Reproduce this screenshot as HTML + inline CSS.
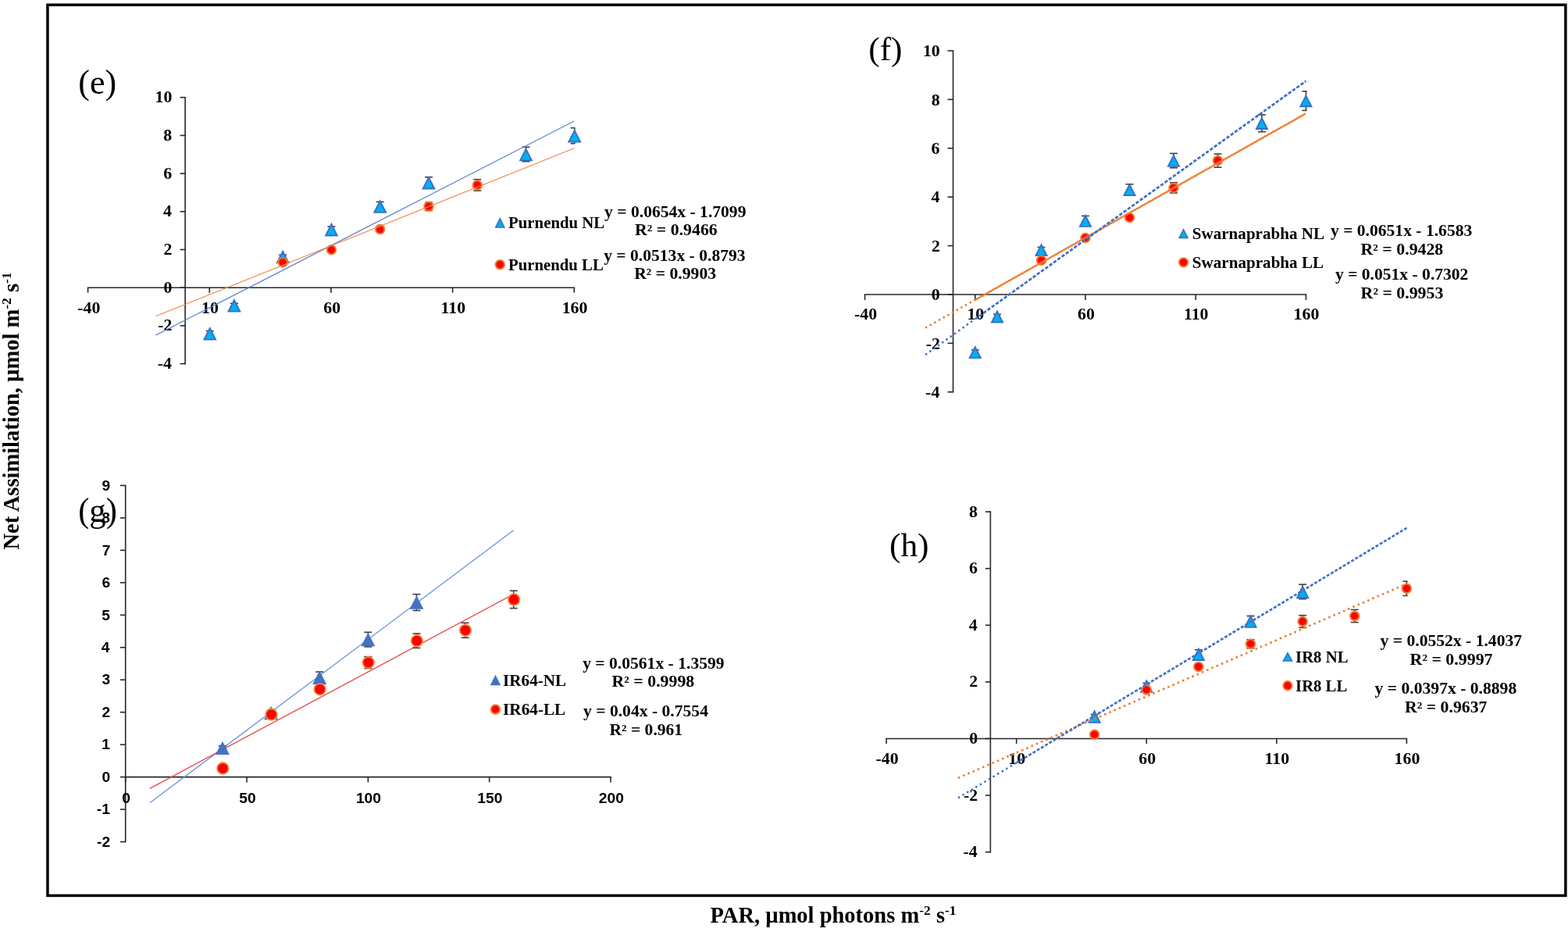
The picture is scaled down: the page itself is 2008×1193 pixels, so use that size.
<!DOCTYPE html>
<html><head><meta charset="utf-8"><title>Net assimilation vs PAR</title>
<style>html,body{margin:0;padding:0;background:#fff;overflow:hidden;}svg{display:block;}</style></head>
<body><svg width="2008" height="1193" viewBox="0 0 2008 1193">
<rect x="0" y="0" width="2008" height="1193" fill="#fff"/>
<line x1="237.14" y1="123.90" x2="237.14" y2="466.40" stroke="#262626" stroke-width="1.6"/>
<line x1="230.64" y1="465.60" x2="237.14" y2="465.60" stroke="#262626" stroke-width="1.6"/>
<line x1="230.64" y1="416.90" x2="237.14" y2="416.90" stroke="#262626" stroke-width="1.6"/>
<line x1="230.64" y1="368.20" x2="237.14" y2="368.20" stroke="#262626" stroke-width="1.6"/>
<line x1="230.64" y1="319.50" x2="237.14" y2="319.50" stroke="#262626" stroke-width="1.6"/>
<line x1="230.64" y1="270.80" x2="237.14" y2="270.80" stroke="#262626" stroke-width="1.6"/>
<line x1="230.64" y1="222.10" x2="237.14" y2="222.10" stroke="#262626" stroke-width="1.6"/>
<line x1="230.64" y1="173.40" x2="237.14" y2="173.40" stroke="#262626" stroke-width="1.6"/>
<line x1="230.64" y1="124.70" x2="237.14" y2="124.70" stroke="#262626" stroke-width="1.6"/>
<line x1="111.80" y1="368.20" x2="736.08" y2="368.20" stroke="#262626" stroke-width="1.6"/>
<line x1="112.60" y1="368.20" x2="112.60" y2="374.70" stroke="#262626" stroke-width="1.6"/>
<line x1="268.27" y1="368.20" x2="268.27" y2="374.70" stroke="#262626" stroke-width="1.6"/>
<line x1="423.94" y1="368.20" x2="423.94" y2="374.70" stroke="#262626" stroke-width="1.6"/>
<line x1="579.61" y1="368.20" x2="579.61" y2="374.70" stroke="#262626" stroke-width="1.6"/>
<line x1="735.28" y1="368.20" x2="735.28" y2="374.70" stroke="#262626" stroke-width="1.6"/>
<text x="201.75" y="472.10" font-family='"Liberation Serif", "Times New Roman", serif' font-weight="bold" font-size="20.6" textLength="18.19" lengthAdjust="spacingAndGlyphs" fill="#000">-4</text>
<text x="202.28" y="423.40" font-family='"Liberation Serif", "Times New Roman", serif' font-weight="bold" font-size="20.6" textLength="18.19" lengthAdjust="spacingAndGlyphs" fill="#000">-2</text>
<text x="209.43" y="374.70" font-family='"Liberation Serif", "Times New Roman", serif' font-weight="bold" font-size="20.6" textLength="10.92" lengthAdjust="spacingAndGlyphs" fill="#000">0</text>
<text x="209.54" y="326.00" font-family='"Liberation Serif", "Times New Roman", serif' font-weight="bold" font-size="20.6" textLength="10.92" lengthAdjust="spacingAndGlyphs" fill="#000">2</text>
<text x="209.01" y="277.30" font-family='"Liberation Serif", "Times New Roman", serif' font-weight="bold" font-size="20.6" textLength="10.92" lengthAdjust="spacingAndGlyphs" fill="#000">4</text>
<text x="209.22" y="228.60" font-family='"Liberation Serif", "Times New Roman", serif' font-weight="bold" font-size="20.6" textLength="10.92" lengthAdjust="spacingAndGlyphs" fill="#000">6</text>
<text x="209.32" y="179.90" font-family='"Liberation Serif", "Times New Roman", serif' font-weight="bold" font-size="20.6" textLength="10.92" lengthAdjust="spacingAndGlyphs" fill="#000">8</text>
<text x="198.51" y="131.20" font-family='"Liberation Serif", "Times New Roman", serif' font-weight="bold" font-size="20.6" textLength="21.84" lengthAdjust="spacingAndGlyphs" fill="#000">10</text>
<text x="99.28" y="400.80" font-family='"Liberation Serif", "Times New Roman", serif' font-weight="bold" font-size="20.6" textLength="29.11" lengthAdjust="spacingAndGlyphs" fill="#000">-40</text>
<text x="258.11" y="400.80" font-family='"Liberation Serif", "Times New Roman", serif' font-weight="bold" font-size="20.6" textLength="21.84" lengthAdjust="spacingAndGlyphs" fill="#000">10</text>
<text x="414.28" y="400.80" font-family='"Liberation Serif", "Times New Roman", serif' font-weight="bold" font-size="20.6" textLength="21.84" lengthAdjust="spacingAndGlyphs" fill="#000">60</text>
<text x="564.60" y="400.80" font-family='"Liberation Serif", "Times New Roman", serif' font-weight="bold" font-size="20.6" textLength="31.55" lengthAdjust="spacingAndGlyphs" fill="#000">110</text>
<text x="719.66" y="400.80" font-family='"Liberation Serif", "Times New Roman", serif' font-weight="bold" font-size="20.6" textLength="32.75" lengthAdjust="spacingAndGlyphs" fill="#000">160</text>
<line x1="268.77" y1="423.60" x2="268.77" y2="430.00" stroke="#404040" stroke-width="1.6"/>
<line x1="263.77" y1="423.60" x2="273.77" y2="423.60" stroke="#404040" stroke-width="1.6"/>
<line x1="263.77" y1="430.00" x2="273.77" y2="430.00" stroke="#404040" stroke-width="1.6"/>
<line x1="299.91" y1="388.30" x2="299.91" y2="393.30" stroke="#404040" stroke-width="1.6"/>
<line x1="294.91" y1="388.30" x2="304.91" y2="388.30" stroke="#404040" stroke-width="1.6"/>
<line x1="294.91" y1="393.30" x2="304.91" y2="393.30" stroke="#404040" stroke-width="1.6"/>
<line x1="362.18" y1="326.30" x2="362.18" y2="330.70" stroke="#404040" stroke-width="1.6"/>
<line x1="357.18" y1="326.30" x2="367.18" y2="326.30" stroke="#404040" stroke-width="1.6"/>
<line x1="357.18" y1="330.70" x2="367.18" y2="330.70" stroke="#404040" stroke-width="1.6"/>
<line x1="424.44" y1="290.00" x2="424.44" y2="297.20" stroke="#404040" stroke-width="1.6"/>
<line x1="419.44" y1="290.00" x2="429.44" y2="290.00" stroke="#404040" stroke-width="1.6"/>
<line x1="419.44" y1="297.20" x2="429.44" y2="297.20" stroke="#404040" stroke-width="1.6"/>
<line x1="486.71" y1="258.40" x2="486.71" y2="269.60" stroke="#404040" stroke-width="1.6"/>
<line x1="481.71" y1="258.40" x2="491.71" y2="258.40" stroke="#404040" stroke-width="1.6"/>
<line x1="481.71" y1="269.60" x2="491.71" y2="269.60" stroke="#404040" stroke-width="1.6"/>
<line x1="548.98" y1="226.75" x2="548.98" y2="240.75" stroke="#404040" stroke-width="1.6"/>
<line x1="543.98" y1="226.75" x2="553.98" y2="226.75" stroke="#404040" stroke-width="1.6"/>
<line x1="543.98" y1="240.75" x2="553.98" y2="240.75" stroke="#404040" stroke-width="1.6"/>
<line x1="673.52" y1="188.30" x2="673.52" y2="206.70" stroke="#404040" stroke-width="1.6"/>
<line x1="668.52" y1="188.30" x2="678.52" y2="188.30" stroke="#404040" stroke-width="1.6"/>
<line x1="668.52" y1="206.70" x2="678.52" y2="206.70" stroke="#404040" stroke-width="1.6"/>
<line x1="735.78" y1="163.75" x2="735.78" y2="183.75" stroke="#404040" stroke-width="1.6"/>
<line x1="730.78" y1="163.75" x2="736.48" y2="163.75" stroke="#404040" stroke-width="1.6"/>
<line x1="730.78" y1="183.75" x2="736.48" y2="183.75" stroke="#404040" stroke-width="1.6"/>
<line x1="362.18" y1="333.80" x2="362.18" y2="337.80" stroke="#404040" stroke-width="1.6"/>
<line x1="357.18" y1="333.80" x2="367.18" y2="333.80" stroke="#404040" stroke-width="1.6"/>
<line x1="357.18" y1="337.80" x2="367.18" y2="337.80" stroke="#404040" stroke-width="1.6"/>
<line x1="424.44" y1="317.75" x2="424.44" y2="321.75" stroke="#404040" stroke-width="1.6"/>
<line x1="419.44" y1="317.75" x2="429.44" y2="317.75" stroke="#404040" stroke-width="1.6"/>
<line x1="419.44" y1="321.75" x2="429.44" y2="321.75" stroke="#404040" stroke-width="1.6"/>
<line x1="486.71" y1="290.60" x2="486.71" y2="296.60" stroke="#404040" stroke-width="1.6"/>
<line x1="481.71" y1="290.60" x2="491.71" y2="290.60" stroke="#404040" stroke-width="1.6"/>
<line x1="481.71" y1="296.60" x2="491.71" y2="296.60" stroke="#404040" stroke-width="1.6"/>
<line x1="548.98" y1="259.10" x2="548.98" y2="269.50" stroke="#404040" stroke-width="1.6"/>
<line x1="543.98" y1="259.10" x2="553.98" y2="259.10" stroke="#404040" stroke-width="1.6"/>
<line x1="543.98" y1="269.50" x2="553.98" y2="269.50" stroke="#404040" stroke-width="1.6"/>
<line x1="611.25" y1="229.70" x2="611.25" y2="244.10" stroke="#404040" stroke-width="1.6"/>
<line x1="606.25" y1="229.70" x2="616.25" y2="229.70" stroke="#404040" stroke-width="1.6"/>
<line x1="606.25" y1="244.10" x2="616.25" y2="244.10" stroke="#404040" stroke-width="1.6"/>
<polygon points="268.77,418.00 277.67,435.60 259.87,435.60" fill="#3A6FC4"/>
<polygon points="268.77,422.21 274.58,433.70 262.96,433.70" fill="#00B0F0"/>
<polygon points="299.91,382.00 308.81,399.60 291.01,399.60" fill="#3A6FC4"/>
<polygon points="299.91,386.21 305.72,397.70 294.10,397.70" fill="#00B0F0"/>
<polygon points="362.18,319.70 371.08,337.30 353.28,337.30" fill="#3A6FC4"/>
<polygon points="362.18,323.91 367.99,335.40 356.37,335.40" fill="#00B0F0"/>
<polygon points="424.44,284.80 433.34,302.40 415.54,302.40" fill="#3A6FC4"/>
<polygon points="424.44,289.01 430.25,300.50 418.63,300.50" fill="#00B0F0"/>
<polygon points="486.71,255.20 495.61,272.80 477.81,272.80" fill="#3A6FC4"/>
<polygon points="486.71,259.41 492.52,270.90 480.90,270.90" fill="#00B0F0"/>
<polygon points="548.98,224.95 557.88,242.55 540.08,242.55" fill="#3A6FC4"/>
<polygon points="548.98,229.16 554.79,240.65 543.17,240.65" fill="#00B0F0"/>
<polygon points="673.52,188.70 682.42,206.30 664.62,206.30" fill="#3A6FC4"/>
<polygon points="673.52,192.91 679.33,204.40 667.71,204.40" fill="#00B0F0"/>
<polygon points="735.78,164.95 744.68,182.55 726.88,182.55" fill="#3A6FC4"/>
<polygon points="735.78,169.16 741.59,180.65 729.97,180.65" fill="#00B0F0"/>
<circle cx="362.18" cy="335.80" r="5.75" fill="#FF0000" stroke="#ED7D31" stroke-width="2"/>
<circle cx="424.44" cy="319.75" r="5.75" fill="#FF0000" stroke="#ED7D31" stroke-width="2"/>
<circle cx="486.71" cy="293.60" r="5.75" fill="#FF0000" stroke="#ED7D31" stroke-width="2"/>
<circle cx="548.98" cy="264.30" r="5.75" fill="#FF0000" stroke="#ED7D31" stroke-width="2"/>
<circle cx="611.25" cy="236.90" r="5.75" fill="#FF0000" stroke="#ED7D31" stroke-width="2"/>
<line x1="199.47" y1="429.11" x2="735.28" y2="155.04" stroke="#5A86CF" stroke-width="1.2"/>
<line x1="199.47" y1="404.73" x2="735.28" y2="189.75" stroke="#EF8A48" stroke-width="1.2"/>
<text x="100.28" y="119.60" font-family='"Liberation Serif", "Times New Roman", serif' font-weight="normal" font-size="43.5" textLength="48.88" lengthAdjust="spacingAndGlyphs" fill="#000">(e)</text>
<polygon points="640.30,278.10 647.10,291.70 633.50,291.70" fill="#3A6FC4"/>
<polygon points="640.30,281.68 644.51,290.10 636.09,290.10" fill="#00B0F0"/>
<text x="651.04" y="292.20" font-family='"Liberation Serif", "Times New Roman", serif' font-weight="bold" font-size="20.3" textLength="123.23" lengthAdjust="spacingAndGlyphs" fill="#000">Purnendu NL</text>
<circle cx="640.30" cy="338.70" r="5.75" fill="#FF0000" stroke="#ED7D31" stroke-width="2"/>
<text x="651.04" y="346.40" font-family='"Liberation Serif", "Times New Roman", serif' font-weight="bold" font-size="20.3" textLength="121.80" lengthAdjust="spacingAndGlyphs" fill="#000">Purnendu LL</text>
<text x="774.08" y="277.60" font-family='"Liberation Serif", "Times New Roman", serif' font-weight="bold" font-size="20" textLength="181.38" lengthAdjust="spacingAndGlyphs" fill="#000">y = 0.0654x - 1.7099</text>
<text x="813.12" y="301.00" font-family='"Liberation Serif", "Times New Roman", serif' font-weight="bold" font-size="20" textLength="105.62" lengthAdjust="spacingAndGlyphs" fill="#000">R² = 0.9466</text>
<text x="773.18" y="333.70" font-family='"Liberation Serif", "Times New Roman", serif' font-weight="bold" font-size="20" textLength="181.38" lengthAdjust="spacingAndGlyphs" fill="#000">y = 0.0513x - 0.8793</text>
<text x="812.22" y="356.70" font-family='"Liberation Serif", "Times New Roman", serif' font-weight="bold" font-size="20" textLength="104.82" lengthAdjust="spacingAndGlyphs" fill="#000">R² = 0.9903</text>
<line x1="1220.55" y1="64.15" x2="1220.55" y2="502.55" stroke="#262626" stroke-width="1.6"/>
<line x1="1213.55" y1="501.75" x2="1220.55" y2="501.75" stroke="#262626" stroke-width="1.6"/>
<line x1="1213.55" y1="439.35" x2="1220.55" y2="439.35" stroke="#262626" stroke-width="1.6"/>
<line x1="1213.55" y1="376.95" x2="1220.55" y2="376.95" stroke="#262626" stroke-width="1.6"/>
<line x1="1213.55" y1="314.55" x2="1220.55" y2="314.55" stroke="#262626" stroke-width="1.6"/>
<line x1="1213.55" y1="252.15" x2="1220.55" y2="252.15" stroke="#262626" stroke-width="1.6"/>
<line x1="1213.55" y1="189.75" x2="1220.55" y2="189.75" stroke="#262626" stroke-width="1.6"/>
<line x1="1213.55" y1="127.35" x2="1220.55" y2="127.35" stroke="#262626" stroke-width="1.6"/>
<line x1="1213.55" y1="64.95" x2="1220.55" y2="64.95" stroke="#262626" stroke-width="1.6"/>
<line x1="1106.78" y1="376.95" x2="1673.22" y2="376.95" stroke="#262626" stroke-width="1.6"/>
<line x1="1107.58" y1="376.95" x2="1107.58" y2="383.95" stroke="#262626" stroke-width="1.6"/>
<line x1="1248.79" y1="376.95" x2="1248.79" y2="383.95" stroke="#262626" stroke-width="1.6"/>
<line x1="1390.00" y1="376.95" x2="1390.00" y2="383.95" stroke="#262626" stroke-width="1.6"/>
<line x1="1531.21" y1="376.95" x2="1531.21" y2="383.95" stroke="#262626" stroke-width="1.6"/>
<line x1="1672.42" y1="376.95" x2="1672.42" y2="383.95" stroke="#262626" stroke-width="1.6"/>
<text x="1185.14" y="509.05" font-family='"Liberation Serif", "Times New Roman", serif' font-weight="bold" font-size="20.6" textLength="18.19" lengthAdjust="spacingAndGlyphs" fill="#000">-4</text>
<text x="1185.68" y="446.65" font-family='"Liberation Serif", "Times New Roman", serif' font-weight="bold" font-size="20.6" textLength="18.19" lengthAdjust="spacingAndGlyphs" fill="#000">-2</text>
<text x="1192.83" y="384.25" font-family='"Liberation Serif", "Times New Roman", serif' font-weight="bold" font-size="20.6" textLength="10.92" lengthAdjust="spacingAndGlyphs" fill="#000">0</text>
<text x="1192.94" y="321.85" font-family='"Liberation Serif", "Times New Roman", serif' font-weight="bold" font-size="20.6" textLength="10.92" lengthAdjust="spacingAndGlyphs" fill="#000">2</text>
<text x="1192.41" y="259.45" font-family='"Liberation Serif", "Times New Roman", serif' font-weight="bold" font-size="20.6" textLength="10.92" lengthAdjust="spacingAndGlyphs" fill="#000">4</text>
<text x="1192.62" y="197.05" font-family='"Liberation Serif", "Times New Roman", serif' font-weight="bold" font-size="20.6" textLength="10.92" lengthAdjust="spacingAndGlyphs" fill="#000">6</text>
<text x="1192.72" y="134.65" font-family='"Liberation Serif", "Times New Roman", serif' font-weight="bold" font-size="20.6" textLength="10.92" lengthAdjust="spacingAndGlyphs" fill="#000">8</text>
<text x="1181.91" y="72.25" font-family='"Liberation Serif", "Times New Roman", serif' font-weight="bold" font-size="20.6" textLength="21.84" lengthAdjust="spacingAndGlyphs" fill="#000">10</text>
<text x="1094.06" y="408.60" font-family='"Liberation Serif", "Times New Roman", serif' font-weight="bold" font-size="20.6" textLength="29.11" lengthAdjust="spacingAndGlyphs" fill="#000">-40</text>
<text x="1238.42" y="408.60" font-family='"Liberation Serif", "Times New Roman", serif' font-weight="bold" font-size="20.6" textLength="21.84" lengthAdjust="spacingAndGlyphs" fill="#000">10</text>
<text x="1380.14" y="408.60" font-family='"Liberation Serif", "Times New Roman", serif' font-weight="bold" font-size="20.6" textLength="21.84" lengthAdjust="spacingAndGlyphs" fill="#000">60</text>
<text x="1515.99" y="408.60" font-family='"Liberation Serif", "Times New Roman", serif' font-weight="bold" font-size="20.6" textLength="31.55" lengthAdjust="spacingAndGlyphs" fill="#000">110</text>
<text x="1656.59" y="408.60" font-family='"Liberation Serif", "Times New Roman", serif' font-weight="bold" font-size="20.6" textLength="32.75" lengthAdjust="spacingAndGlyphs" fill="#000">160</text>
<line x1="1248.79" y1="448.00" x2="1248.79" y2="454.00" stroke="#404040" stroke-width="1.6"/>
<line x1="1243.79" y1="448.00" x2="1253.79" y2="448.00" stroke="#404040" stroke-width="1.6"/>
<line x1="1243.79" y1="454.00" x2="1253.79" y2="454.00" stroke="#404040" stroke-width="1.6"/>
<line x1="1277.03" y1="402.30" x2="1277.03" y2="408.30" stroke="#404040" stroke-width="1.6"/>
<line x1="1272.03" y1="402.30" x2="1282.03" y2="402.30" stroke="#404040" stroke-width="1.6"/>
<line x1="1272.03" y1="408.30" x2="1282.03" y2="408.30" stroke="#404040" stroke-width="1.6"/>
<line x1="1333.52" y1="316.50" x2="1333.52" y2="323.50" stroke="#404040" stroke-width="1.6"/>
<line x1="1328.52" y1="316.50" x2="1338.52" y2="316.50" stroke="#404040" stroke-width="1.6"/>
<line x1="1328.52" y1="323.50" x2="1338.52" y2="323.50" stroke="#404040" stroke-width="1.6"/>
<line x1="1390.00" y1="276.40" x2="1390.00" y2="289.00" stroke="#404040" stroke-width="1.6"/>
<line x1="1385.00" y1="276.40" x2="1395.00" y2="276.40" stroke="#404040" stroke-width="1.6"/>
<line x1="1385.00" y1="289.00" x2="1395.00" y2="289.00" stroke="#404040" stroke-width="1.6"/>
<line x1="1446.49" y1="235.80" x2="1446.49" y2="250.20" stroke="#404040" stroke-width="1.6"/>
<line x1="1441.49" y1="235.80" x2="1451.49" y2="235.80" stroke="#404040" stroke-width="1.6"/>
<line x1="1441.49" y1="250.20" x2="1451.49" y2="250.20" stroke="#404040" stroke-width="1.6"/>
<line x1="1502.97" y1="196.40" x2="1502.97" y2="214.80" stroke="#404040" stroke-width="1.6"/>
<line x1="1497.97" y1="196.40" x2="1507.97" y2="196.40" stroke="#404040" stroke-width="1.6"/>
<line x1="1497.97" y1="214.80" x2="1507.97" y2="214.80" stroke="#404040" stroke-width="1.6"/>
<line x1="1615.94" y1="146.90" x2="1615.94" y2="168.70" stroke="#404040" stroke-width="1.6"/>
<line x1="1610.94" y1="146.90" x2="1620.94" y2="146.90" stroke="#404040" stroke-width="1.6"/>
<line x1="1610.94" y1="168.70" x2="1620.94" y2="168.70" stroke="#404040" stroke-width="1.6"/>
<line x1="1672.42" y1="116.80" x2="1672.42" y2="141.40" stroke="#404040" stroke-width="1.6"/>
<line x1="1667.42" y1="116.80" x2="1673.62" y2="116.80" stroke="#404040" stroke-width="1.6"/>
<line x1="1667.42" y1="141.40" x2="1673.62" y2="141.40" stroke="#404040" stroke-width="1.6"/>
<line x1="1333.52" y1="330.70" x2="1333.52" y2="335.70" stroke="#404040" stroke-width="1.6"/>
<line x1="1328.52" y1="330.70" x2="1338.52" y2="330.70" stroke="#404040" stroke-width="1.6"/>
<line x1="1328.52" y1="335.70" x2="1338.52" y2="335.70" stroke="#404040" stroke-width="1.6"/>
<line x1="1390.00" y1="301.90" x2="1390.00" y2="306.90" stroke="#404040" stroke-width="1.6"/>
<line x1="1385.00" y1="301.90" x2="1395.00" y2="301.90" stroke="#404040" stroke-width="1.6"/>
<line x1="1385.00" y1="306.90" x2="1395.00" y2="306.90" stroke="#404040" stroke-width="1.6"/>
<line x1="1446.49" y1="275.40" x2="1446.49" y2="281.40" stroke="#404040" stroke-width="1.6"/>
<line x1="1441.49" y1="275.40" x2="1451.49" y2="275.40" stroke="#404040" stroke-width="1.6"/>
<line x1="1441.49" y1="281.40" x2="1451.49" y2="281.40" stroke="#404040" stroke-width="1.6"/>
<line x1="1502.97" y1="233.80" x2="1502.97" y2="247.00" stroke="#404040" stroke-width="1.6"/>
<line x1="1497.97" y1="233.80" x2="1507.97" y2="233.80" stroke="#404040" stroke-width="1.6"/>
<line x1="1497.97" y1="247.00" x2="1507.97" y2="247.00" stroke="#404040" stroke-width="1.6"/>
<line x1="1559.45" y1="197.00" x2="1559.45" y2="214.20" stroke="#404040" stroke-width="1.6"/>
<line x1="1554.45" y1="197.00" x2="1564.45" y2="197.00" stroke="#404040" stroke-width="1.6"/>
<line x1="1554.45" y1="214.20" x2="1564.45" y2="214.20" stroke="#404040" stroke-width="1.6"/>
<polygon points="1248.79,442.30 1257.39,459.10 1240.19,459.10" fill="#3A6FC4"/>
<polygon points="1248.79,446.47 1254.28,457.20 1243.30,457.20" fill="#00B0F0"/>
<polygon points="1277.03,396.60 1285.63,413.40 1268.43,413.40" fill="#3A6FC4"/>
<polygon points="1277.03,400.77 1282.53,411.50 1271.54,411.50" fill="#00B0F0"/>
<polygon points="1333.52,311.30 1342.12,328.10 1324.92,328.10" fill="#3A6FC4"/>
<polygon points="1333.52,315.47 1339.01,326.20 1328.03,326.20" fill="#00B0F0"/>
<polygon points="1390.00,274.00 1398.60,290.80 1381.40,290.80" fill="#3A6FC4"/>
<polygon points="1390.00,278.17 1395.49,288.90 1384.51,288.90" fill="#00B0F0"/>
<polygon points="1446.49,234.30 1455.09,251.10 1437.89,251.10" fill="#3A6FC4"/>
<polygon points="1446.49,238.47 1451.98,249.20 1440.99,249.20" fill="#00B0F0"/>
<polygon points="1502.97,196.90 1511.57,213.70 1494.37,213.70" fill="#3A6FC4"/>
<polygon points="1502.97,201.07 1508.46,211.80 1497.48,211.80" fill="#00B0F0"/>
<polygon points="1615.94,149.10 1624.54,165.90 1607.34,165.90" fill="#3A6FC4"/>
<polygon points="1615.94,153.27 1621.43,164.00 1610.45,164.00" fill="#00B0F0"/>
<polygon points="1672.42,120.40 1681.02,137.20 1663.82,137.20" fill="#3A6FC4"/>
<polygon points="1672.42,124.57 1677.91,135.30 1666.93,135.30" fill="#00B0F0"/>
<circle cx="1333.52" cy="333.20" r="5.75" fill="#FF0000" stroke="#ED7D31" stroke-width="2"/>
<circle cx="1390.00" cy="304.40" r="5.75" fill="#FF0000" stroke="#ED7D31" stroke-width="2"/>
<circle cx="1446.49" cy="278.40" r="5.75" fill="#FF0000" stroke="#ED7D31" stroke-width="2"/>
<circle cx="1502.97" cy="240.40" r="5.75" fill="#FF0000" stroke="#ED7D31" stroke-width="2"/>
<circle cx="1559.45" cy="205.60" r="5.75" fill="#FF0000" stroke="#ED7D31" stroke-width="2"/>
<line x1="1186.09" y1="419.14" x2="1248.79" y2="383.82" stroke="#ED7D31" stroke-width="2.9" stroke-linecap="round" stroke-dasharray="0 6.5"/>
<line x1="1186.09" y1="453.47" x2="1248.79" y2="408.38" stroke="#4472C4" stroke-width="2.9" stroke-linecap="round" stroke-dasharray="0 6.5"/>
<line x1="1248.79" y1="383.82" x2="1672.42" y2="145.14" stroke="#ED7D31" stroke-width="3.0" stroke-linecap="round" stroke-dasharray="0 2.9"/>
<line x1="1248.79" y1="408.38" x2="1672.42" y2="103.71" stroke="#4472C4" stroke-width="2.8" stroke-dasharray="4.4 2.1"/>
<text x="1112.21" y="77.00" font-family='"Liberation Serif", "Times New Roman", serif' font-weight="normal" font-size="42.4" textLength="43.29" lengthAdjust="spacingAndGlyphs" fill="#000">(f)</text>
<polygon points="1515.60,292.20 1522.30,305.20 1508.90,305.20" fill="#3A6FC4"/>
<polygon points="1515.60,295.69 1519.68,303.60 1511.52,303.60" fill="#00B0F0"/>
<text x="1526.77" y="305.90" font-family='"Liberation Serif", "Times New Roman", serif' font-weight="bold" font-size="20.5" textLength="169.32" lengthAdjust="spacingAndGlyphs" fill="#000">Swarnaprabha NL</text>
<circle cx="1515.60" cy="335.80" r="5.65" fill="#FF0000" stroke="#ED7D31" stroke-width="2"/>
<text x="1526.77" y="342.70" font-family='"Liberation Serif", "Times New Roman", serif' font-weight="bold" font-size="20.5" textLength="168.34" lengthAdjust="spacingAndGlyphs" fill="#000">Swarnaprabha LL</text>
<text x="1703.98" y="301.90" font-family='"Liberation Serif", "Times New Roman", serif' font-weight="bold" font-size="20" textLength="181.28" lengthAdjust="spacingAndGlyphs" fill="#000">y = 0.0651x - 1.6583</text>
<text x="1742.62" y="325.80" font-family='"Liberation Serif", "Times New Roman", serif' font-weight="bold" font-size="20" textLength="105.68" lengthAdjust="spacingAndGlyphs" fill="#000">R² = 0.9428</text>
<text x="1709.98" y="358.30" font-family='"Liberation Serif", "Times New Roman", serif' font-weight="bold" font-size="20" textLength="170.44" lengthAdjust="spacingAndGlyphs" fill="#000">y = 0.051x - 0.7302</text>
<text x="1742.62" y="382.20" font-family='"Liberation Serif", "Times New Roman", serif' font-weight="bold" font-size="20" textLength="105.73" lengthAdjust="spacingAndGlyphs" fill="#000">R² = 0.9953</text>
<line x1="160.70" y1="620.66" x2="160.70" y2="1078.32" stroke="#262626" stroke-width="1.6"/>
<line x1="153.90" y1="1077.52" x2="160.70" y2="1077.52" stroke="#262626" stroke-width="1.6"/>
<line x1="153.90" y1="1036.06" x2="160.70" y2="1036.06" stroke="#262626" stroke-width="1.6"/>
<line x1="153.90" y1="994.60" x2="160.70" y2="994.60" stroke="#262626" stroke-width="1.6"/>
<line x1="153.90" y1="953.14" x2="160.70" y2="953.14" stroke="#262626" stroke-width="1.6"/>
<line x1="153.90" y1="911.68" x2="160.70" y2="911.68" stroke="#262626" stroke-width="1.6"/>
<line x1="153.90" y1="870.22" x2="160.70" y2="870.22" stroke="#262626" stroke-width="1.6"/>
<line x1="153.90" y1="828.76" x2="160.70" y2="828.76" stroke="#262626" stroke-width="1.6"/>
<line x1="153.90" y1="787.30" x2="160.70" y2="787.30" stroke="#262626" stroke-width="1.6"/>
<line x1="153.90" y1="745.84" x2="160.70" y2="745.84" stroke="#262626" stroke-width="1.6"/>
<line x1="153.90" y1="704.38" x2="160.70" y2="704.38" stroke="#262626" stroke-width="1.6"/>
<line x1="153.90" y1="662.92" x2="160.70" y2="662.92" stroke="#262626" stroke-width="1.6"/>
<line x1="153.90" y1="621.46" x2="160.70" y2="621.46" stroke="#262626" stroke-width="1.6"/>
<line x1="159.90" y1="994.60" x2="782.82" y2="994.60" stroke="#262626" stroke-width="1.6"/>
<line x1="160.70" y1="994.60" x2="160.70" y2="1001.40" stroke="#262626" stroke-width="1.6"/>
<line x1="316.03" y1="994.60" x2="316.03" y2="1001.40" stroke="#262626" stroke-width="1.6"/>
<line x1="471.36" y1="994.60" x2="471.36" y2="1001.40" stroke="#262626" stroke-width="1.6"/>
<line x1="626.69" y1="994.60" x2="626.69" y2="1001.40" stroke="#262626" stroke-width="1.6"/>
<line x1="782.02" y1="994.60" x2="782.02" y2="1001.40" stroke="#262626" stroke-width="1.6"/>
<text x="124.11" y="1083.72" font-family='"Liberation Sans", Arial, sans-serif' font-weight="bold" font-size="17.5" textLength="17.12" lengthAdjust="spacingAndGlyphs" fill="#000">-2</text>
<text x="123.89" y="1042.26" font-family='"Liberation Sans", Arial, sans-serif' font-weight="bold" font-size="17.5" textLength="17.12" lengthAdjust="spacingAndGlyphs" fill="#000">-1</text>
<text x="130.60" y="1000.80" font-family='"Liberation Sans", Arial, sans-serif' font-weight="bold" font-size="17.5" textLength="10.71" lengthAdjust="spacingAndGlyphs" fill="#000">0</text>
<text x="130.32" y="959.34" font-family='"Liberation Sans", Arial, sans-serif' font-weight="bold" font-size="17.5" textLength="10.71" lengthAdjust="spacingAndGlyphs" fill="#000">1</text>
<text x="130.54" y="917.88" font-family='"Liberation Sans", Arial, sans-serif' font-weight="bold" font-size="17.5" textLength="10.71" lengthAdjust="spacingAndGlyphs" fill="#000">2</text>
<text x="130.49" y="876.42" font-family='"Liberation Sans", Arial, sans-serif' font-weight="bold" font-size="17.5" textLength="10.71" lengthAdjust="spacingAndGlyphs" fill="#000">3</text>
<text x="129.88" y="834.96" font-family='"Liberation Sans", Arial, sans-serif' font-weight="bold" font-size="17.5" textLength="10.71" lengthAdjust="spacingAndGlyphs" fill="#000">4</text>
<text x="130.32" y="793.50" font-family='"Liberation Sans", Arial, sans-serif' font-weight="bold" font-size="17.5" textLength="10.71" lengthAdjust="spacingAndGlyphs" fill="#000">5</text>
<text x="130.49" y="752.04" font-family='"Liberation Sans", Arial, sans-serif' font-weight="bold" font-size="17.5" textLength="10.71" lengthAdjust="spacingAndGlyphs" fill="#000">6</text>
<text x="130.66" y="710.58" font-family='"Liberation Sans", Arial, sans-serif' font-weight="bold" font-size="17.5" textLength="10.71" lengthAdjust="spacingAndGlyphs" fill="#000">7</text>
<text x="130.38" y="669.12" font-family='"Liberation Sans", Arial, sans-serif' font-weight="bold" font-size="17.5" textLength="10.71" lengthAdjust="spacingAndGlyphs" fill="#000">8</text>
<text x="130.49" y="627.66" font-family='"Liberation Sans", Arial, sans-serif' font-weight="bold" font-size="17.5" textLength="10.71" lengthAdjust="spacingAndGlyphs" fill="#000">9</text>
<text x="156.16" y="1028.40" font-family='"Liberation Sans", Arial, sans-serif' font-weight="bold" font-size="17.5" textLength="10.71" lengthAdjust="spacingAndGlyphs" fill="#000">0</text>
<text x="306.21" y="1028.40" font-family='"Liberation Sans", Arial, sans-serif' font-weight="bold" font-size="17.5" textLength="21.41" lengthAdjust="spacingAndGlyphs" fill="#000">50</text>
<text x="455.91" y="1028.40" font-family='"Liberation Sans", Arial, sans-serif' font-weight="bold" font-size="17.5" textLength="32.12" lengthAdjust="spacingAndGlyphs" fill="#000">100</text>
<text x="611.24" y="1028.40" font-family='"Liberation Sans", Arial, sans-serif' font-weight="bold" font-size="17.5" textLength="32.12" lengthAdjust="spacingAndGlyphs" fill="#000">150</text>
<text x="766.84" y="1028.40" font-family='"Liberation Sans", Arial, sans-serif' font-weight="bold" font-size="17.5" textLength="32.12" lengthAdjust="spacingAndGlyphs" fill="#000">200</text>
<line x1="191.77" y1="1027.72" x2="657.76" y2="678.84" stroke="#6A96D6" stroke-width="1.3"/>
<line x1="191.77" y1="1009.33" x2="657.76" y2="760.57" stroke="#E84848" stroke-width="1.3"/>
<line x1="284.96" y1="954.90" x2="284.96" y2="959.90" stroke="#404040" stroke-width="1.6"/>
<line x1="279.96" y1="954.90" x2="289.96" y2="954.90" stroke="#404040" stroke-width="1.6"/>
<line x1="279.96" y1="959.90" x2="289.96" y2="959.90" stroke="#404040" stroke-width="1.6"/>
<line x1="347.10" y1="909.00" x2="347.10" y2="916.00" stroke="#404040" stroke-width="1.6"/>
<line x1="342.10" y1="909.00" x2="352.10" y2="909.00" stroke="#404040" stroke-width="1.6"/>
<line x1="342.10" y1="916.00" x2="352.10" y2="916.00" stroke="#404040" stroke-width="1.6"/>
<line x1="409.23" y1="860.00" x2="409.23" y2="874.60" stroke="#404040" stroke-width="1.6"/>
<line x1="404.23" y1="860.00" x2="414.23" y2="860.00" stroke="#404040" stroke-width="1.6"/>
<line x1="404.23" y1="874.60" x2="414.23" y2="874.60" stroke="#404040" stroke-width="1.6"/>
<line x1="471.36" y1="809.30" x2="471.36" y2="827.90" stroke="#404040" stroke-width="1.6"/>
<line x1="466.36" y1="809.30" x2="476.36" y2="809.30" stroke="#404040" stroke-width="1.6"/>
<line x1="466.36" y1="827.90" x2="476.36" y2="827.90" stroke="#404040" stroke-width="1.6"/>
<line x1="533.49" y1="760.70" x2="533.49" y2="781.50" stroke="#404040" stroke-width="1.6"/>
<line x1="528.49" y1="760.70" x2="538.49" y2="760.70" stroke="#404040" stroke-width="1.6"/>
<line x1="528.49" y1="781.50" x2="538.49" y2="781.50" stroke="#404040" stroke-width="1.6"/>
<line x1="284.96" y1="981.50" x2="284.96" y2="985.50" stroke="#404040" stroke-width="1.6"/>
<line x1="279.96" y1="981.50" x2="289.96" y2="981.50" stroke="#404040" stroke-width="1.6"/>
<line x1="279.96" y1="985.50" x2="289.96" y2="985.50" stroke="#404040" stroke-width="1.6"/>
<line x1="347.10" y1="912.00" x2="347.10" y2="917.00" stroke="#404040" stroke-width="1.6"/>
<line x1="342.10" y1="912.00" x2="352.10" y2="912.00" stroke="#404040" stroke-width="1.6"/>
<line x1="342.10" y1="917.00" x2="352.10" y2="917.00" stroke="#404040" stroke-width="1.6"/>
<line x1="409.23" y1="877.30" x2="409.23" y2="887.30" stroke="#404040" stroke-width="1.6"/>
<line x1="404.23" y1="877.30" x2="414.23" y2="877.30" stroke="#404040" stroke-width="1.6"/>
<line x1="404.23" y1="887.30" x2="414.23" y2="887.30" stroke="#404040" stroke-width="1.6"/>
<line x1="471.36" y1="840.60" x2="471.36" y2="855.60" stroke="#404040" stroke-width="1.6"/>
<line x1="466.36" y1="840.60" x2="476.36" y2="840.60" stroke="#404040" stroke-width="1.6"/>
<line x1="466.36" y1="855.60" x2="476.36" y2="855.60" stroke="#404040" stroke-width="1.6"/>
<line x1="533.49" y1="811.00" x2="533.49" y2="829.40" stroke="#404040" stroke-width="1.6"/>
<line x1="528.49" y1="811.00" x2="538.49" y2="811.00" stroke="#404040" stroke-width="1.6"/>
<line x1="528.49" y1="829.40" x2="538.49" y2="829.40" stroke="#404040" stroke-width="1.6"/>
<line x1="595.62" y1="797.30" x2="595.62" y2="816.30" stroke="#404040" stroke-width="1.6"/>
<line x1="590.62" y1="797.30" x2="600.62" y2="797.30" stroke="#404040" stroke-width="1.6"/>
<line x1="590.62" y1="816.30" x2="600.62" y2="816.30" stroke="#404040" stroke-width="1.6"/>
<line x1="657.76" y1="756.20" x2="657.76" y2="778.60" stroke="#404040" stroke-width="1.6"/>
<line x1="652.76" y1="756.20" x2="662.76" y2="756.20" stroke="#404040" stroke-width="1.6"/>
<line x1="652.76" y1="778.60" x2="662.76" y2="778.60" stroke="#404040" stroke-width="1.6"/>
<polygon points="284.96,948.70 293.96,966.10 275.96,966.10" fill="#4472C4"/>
<polygon points="347.10,903.80 356.10,921.20 338.10,921.20" fill="#4472C4"/>
<polygon points="409.23,858.60 418.23,876.00 400.23,876.00" fill="#4472C4"/>
<polygon points="471.36,809.90 480.36,827.30 462.36,827.30" fill="#4472C4"/>
<polygon points="533.49,762.40 542.49,779.80 524.49,779.80" fill="#4472C4"/>
<circle cx="285.36" cy="983.50" r="7.25" fill="#FF0000" stroke="#F08A3C" stroke-width="1.8"/>
<circle cx="347.50" cy="914.50" r="7.25" fill="#FF0000" stroke="#F08A3C" stroke-width="1.8"/>
<circle cx="409.63" cy="882.30" r="7.25" fill="#FF0000" stroke="#F08A3C" stroke-width="1.8"/>
<circle cx="471.76" cy="848.10" r="7.25" fill="#FF0000" stroke="#F08A3C" stroke-width="1.8"/>
<circle cx="533.89" cy="820.20" r="7.25" fill="#FF0000" stroke="#F08A3C" stroke-width="1.8"/>
<circle cx="596.02" cy="806.80" r="7.25" fill="#FF0000" stroke="#F08A3C" stroke-width="1.8"/>
<circle cx="658.16" cy="767.40" r="7.25" fill="#FF0000" stroke="#F08A3C" stroke-width="1.8"/>
<text x="100.14" y="667.60" font-family='"Liberation Serif", "Times New Roman", serif' font-weight="normal" font-size="43.5" textLength="49.75" lengthAdjust="spacingAndGlyphs" fill="#000">(g)</text>
<polygon points="634.50,863.70 641.25,877.30 627.75,877.30" fill="#4472C4"/>
<text x="644.08" y="878.20" font-family='"Liberation Serif", "Times New Roman", serif' font-weight="bold" font-size="20.5" textLength="81.04" lengthAdjust="spacingAndGlyphs" fill="#000">IR64-NL</text>
<circle cx="634.50" cy="908.00" r="5.75" fill="#FF0000" stroke="#ED7D31" stroke-width="2"/>
<text x="644.08" y="915.10" font-family='"Liberation Serif", "Times New Roman", serif' font-weight="bold" font-size="20.5" textLength="80.21" lengthAdjust="spacingAndGlyphs" fill="#000">IR64-LL</text>
<text x="746.18" y="856.30" font-family='"Liberation Serif", "Times New Roman", serif' font-weight="bold" font-size="20" textLength="181.38" lengthAdjust="spacingAndGlyphs" fill="#000">y = 0.0561x - 1.3599</text>
<text x="783.52" y="879.30" font-family='"Liberation Serif", "Times New Roman", serif' font-weight="bold" font-size="20" textLength="105.78" lengthAdjust="spacingAndGlyphs" fill="#000">R² = 0.9998</text>
<text x="746.98" y="917.10" font-family='"Liberation Serif", "Times New Roman", serif' font-weight="bold" font-size="20" textLength="160.00" lengthAdjust="spacingAndGlyphs" fill="#000">y = 0.04x - 0.7554</text>
<text x="780.52" y="940.90" font-family='"Liberation Serif", "Times New Roman", serif' font-weight="bold" font-size="20" textLength="93.59" lengthAdjust="spacingAndGlyphs" fill="#000">R² = 0.961</text>
<line x1="1268.37" y1="654.30" x2="1268.37" y2="1091.50" stroke="#262626" stroke-width="1.6"/>
<line x1="1261.87" y1="1090.70" x2="1268.37" y2="1090.70" stroke="#262626" stroke-width="1.6"/>
<line x1="1261.87" y1="1018.10" x2="1268.37" y2="1018.10" stroke="#262626" stroke-width="1.6"/>
<line x1="1261.87" y1="945.50" x2="1268.37" y2="945.50" stroke="#262626" stroke-width="1.6"/>
<line x1="1261.87" y1="872.90" x2="1268.37" y2="872.90" stroke="#262626" stroke-width="1.6"/>
<line x1="1261.87" y1="800.30" x2="1268.37" y2="800.30" stroke="#262626" stroke-width="1.6"/>
<line x1="1261.87" y1="727.70" x2="1268.37" y2="727.70" stroke="#262626" stroke-width="1.6"/>
<line x1="1261.87" y1="655.10" x2="1268.37" y2="655.10" stroke="#262626" stroke-width="1.6"/>
<line x1="1134.31" y1="945.50" x2="1802.19" y2="945.50" stroke="#262626" stroke-width="1.6"/>
<line x1="1135.11" y1="945.50" x2="1135.11" y2="952.00" stroke="#262626" stroke-width="1.6"/>
<line x1="1301.68" y1="945.50" x2="1301.68" y2="952.00" stroke="#262626" stroke-width="1.6"/>
<line x1="1468.25" y1="945.50" x2="1468.25" y2="952.00" stroke="#262626" stroke-width="1.6"/>
<line x1="1634.82" y1="945.50" x2="1634.82" y2="952.00" stroke="#262626" stroke-width="1.6"/>
<line x1="1801.39" y1="945.50" x2="1801.39" y2="952.00" stroke="#262626" stroke-width="1.6"/>
<text x="1233.54" y="1097.20" font-family='"Liberation Serif", "Times New Roman", serif' font-weight="bold" font-size="20.6" textLength="18.19" lengthAdjust="spacingAndGlyphs" fill="#000">-4</text>
<text x="1234.08" y="1024.60" font-family='"Liberation Serif", "Times New Roman", serif' font-weight="bold" font-size="20.6" textLength="18.19" lengthAdjust="spacingAndGlyphs" fill="#000">-2</text>
<text x="1241.23" y="952.00" font-family='"Liberation Serif", "Times New Roman", serif' font-weight="bold" font-size="20.6" textLength="10.92" lengthAdjust="spacingAndGlyphs" fill="#000">0</text>
<text x="1241.34" y="879.40" font-family='"Liberation Serif", "Times New Roman", serif' font-weight="bold" font-size="20.6" textLength="10.92" lengthAdjust="spacingAndGlyphs" fill="#000">2</text>
<text x="1240.81" y="806.80" font-family='"Liberation Serif", "Times New Roman", serif' font-weight="bold" font-size="20.6" textLength="10.92" lengthAdjust="spacingAndGlyphs" fill="#000">4</text>
<text x="1241.02" y="734.20" font-family='"Liberation Serif", "Times New Roman", serif' font-weight="bold" font-size="20.6" textLength="10.92" lengthAdjust="spacingAndGlyphs" fill="#000">6</text>
<text x="1241.12" y="661.60" font-family='"Liberation Serif", "Times New Roman", serif' font-weight="bold" font-size="20.6" textLength="10.92" lengthAdjust="spacingAndGlyphs" fill="#000">8</text>
<text x="1121.59" y="977.80" font-family='"Liberation Serif", "Times New Roman", serif' font-weight="bold" font-size="20.6" textLength="29.11" lengthAdjust="spacingAndGlyphs" fill="#000">-40</text>
<text x="1291.32" y="977.80" font-family='"Liberation Serif", "Times New Roman", serif' font-weight="bold" font-size="20.6" textLength="21.84" lengthAdjust="spacingAndGlyphs" fill="#000">10</text>
<text x="1458.39" y="977.80" font-family='"Liberation Serif", "Times New Roman", serif' font-weight="bold" font-size="20.6" textLength="21.84" lengthAdjust="spacingAndGlyphs" fill="#000">60</text>
<text x="1619.61" y="977.80" font-family='"Liberation Serif", "Times New Roman", serif' font-weight="bold" font-size="20.6" textLength="31.55" lengthAdjust="spacingAndGlyphs" fill="#000">110</text>
<text x="1785.57" y="977.80" font-family='"Liberation Serif", "Times New Roman", serif' font-weight="bold" font-size="20.6" textLength="32.75" lengthAdjust="spacingAndGlyphs" fill="#000">160</text>
<line x1="1401.63" y1="914.50" x2="1401.63" y2="919.50" stroke="#404040" stroke-width="1.6"/>
<line x1="1396.63" y1="914.50" x2="1406.63" y2="914.50" stroke="#404040" stroke-width="1.6"/>
<line x1="1396.63" y1="919.50" x2="1406.63" y2="919.50" stroke="#404040" stroke-width="1.6"/>
<line x1="1468.25" y1="874.50" x2="1468.25" y2="881.50" stroke="#404040" stroke-width="1.6"/>
<line x1="1463.25" y1="874.50" x2="1473.25" y2="874.50" stroke="#404040" stroke-width="1.6"/>
<line x1="1463.25" y1="881.50" x2="1473.25" y2="881.50" stroke="#404040" stroke-width="1.6"/>
<line x1="1534.88" y1="831.70" x2="1534.88" y2="842.70" stroke="#404040" stroke-width="1.6"/>
<line x1="1529.88" y1="831.70" x2="1539.88" y2="831.70" stroke="#404040" stroke-width="1.6"/>
<line x1="1529.88" y1="842.70" x2="1539.88" y2="842.70" stroke="#404040" stroke-width="1.6"/>
<line x1="1601.51" y1="788.50" x2="1601.51" y2="801.50" stroke="#404040" stroke-width="1.6"/>
<line x1="1596.51" y1="788.50" x2="1606.51" y2="788.50" stroke="#404040" stroke-width="1.6"/>
<line x1="1596.51" y1="801.50" x2="1606.51" y2="801.50" stroke="#404040" stroke-width="1.6"/>
<line x1="1668.14" y1="748.10" x2="1668.14" y2="766.70" stroke="#404040" stroke-width="1.6"/>
<line x1="1663.14" y1="748.10" x2="1673.14" y2="748.10" stroke="#404040" stroke-width="1.6"/>
<line x1="1663.14" y1="766.70" x2="1673.14" y2="766.70" stroke="#404040" stroke-width="1.6"/>
<line x1="1401.63" y1="938.30" x2="1401.63" y2="942.30" stroke="#404040" stroke-width="1.6"/>
<line x1="1396.63" y1="938.30" x2="1406.63" y2="938.30" stroke="#404040" stroke-width="1.6"/>
<line x1="1396.63" y1="942.30" x2="1406.63" y2="942.30" stroke="#404040" stroke-width="1.6"/>
<line x1="1468.25" y1="880.00" x2="1468.25" y2="886.00" stroke="#404040" stroke-width="1.6"/>
<line x1="1463.25" y1="880.00" x2="1473.25" y2="880.00" stroke="#404040" stroke-width="1.6"/>
<line x1="1463.25" y1="886.00" x2="1473.25" y2="886.00" stroke="#404040" stroke-width="1.6"/>
<line x1="1534.88" y1="849.90" x2="1534.88" y2="856.90" stroke="#404040" stroke-width="1.6"/>
<line x1="1529.88" y1="849.90" x2="1539.88" y2="849.90" stroke="#404040" stroke-width="1.6"/>
<line x1="1529.88" y1="856.90" x2="1539.88" y2="856.90" stroke="#404040" stroke-width="1.6"/>
<line x1="1601.51" y1="818.70" x2="1601.51" y2="829.70" stroke="#404040" stroke-width="1.6"/>
<line x1="1596.51" y1="818.70" x2="1606.51" y2="818.70" stroke="#404040" stroke-width="1.6"/>
<line x1="1596.51" y1="829.70" x2="1606.51" y2="829.70" stroke="#404040" stroke-width="1.6"/>
<line x1="1668.14" y1="787.70" x2="1668.14" y2="803.30" stroke="#404040" stroke-width="1.6"/>
<line x1="1663.14" y1="787.70" x2="1673.14" y2="787.70" stroke="#404040" stroke-width="1.6"/>
<line x1="1663.14" y1="803.30" x2="1673.14" y2="803.30" stroke="#404040" stroke-width="1.6"/>
<line x1="1734.77" y1="780.40" x2="1734.77" y2="796.60" stroke="#404040" stroke-width="1.6"/>
<line x1="1729.77" y1="780.40" x2="1739.77" y2="780.40" stroke="#404040" stroke-width="1.6"/>
<line x1="1729.77" y1="796.60" x2="1739.77" y2="796.60" stroke="#404040" stroke-width="1.6"/>
<line x1="1801.39" y1="744.10" x2="1801.39" y2="762.50" stroke="#404040" stroke-width="1.6"/>
<line x1="1796.39" y1="744.10" x2="1802.59" y2="744.10" stroke="#404040" stroke-width="1.6"/>
<line x1="1796.39" y1="762.50" x2="1802.59" y2="762.50" stroke="#404040" stroke-width="1.6"/>
<polygon points="1401.63,908.20 1410.23,925.80 1393.03,925.80" fill="#3A6FC4"/>
<polygon points="1401.63,912.53 1407.18,923.90 1396.07,923.90" fill="#00B0F0"/>
<polygon points="1468.25,869.20 1476.85,886.80 1459.65,886.80" fill="#3A6FC4"/>
<polygon points="1468.25,873.53 1473.81,884.90 1462.70,884.90" fill="#00B0F0"/>
<polygon points="1534.88,828.40 1543.48,846.00 1526.28,846.00" fill="#3A6FC4"/>
<polygon points="1534.88,832.73 1540.44,844.10 1529.33,844.10" fill="#00B0F0"/>
<polygon points="1601.51,786.20 1610.11,803.80 1592.91,803.80" fill="#3A6FC4"/>
<polygon points="1601.51,790.53 1607.07,801.90 1595.95,801.90" fill="#00B0F0"/>
<polygon points="1668.14,748.60 1676.74,766.20 1659.54,766.20" fill="#3A6FC4"/>
<polygon points="1668.14,752.93 1673.69,764.30 1662.58,764.30" fill="#00B0F0"/>
<circle cx="1401.63" cy="940.30" r="5.75" fill="#FF0000" stroke="#ED7D31" stroke-width="2"/>
<circle cx="1468.25" cy="883.00" r="5.75" fill="#FF0000" stroke="#ED7D31" stroke-width="2"/>
<circle cx="1534.88" cy="853.40" r="5.75" fill="#FF0000" stroke="#ED7D31" stroke-width="2"/>
<circle cx="1601.51" cy="824.20" r="5.75" fill="#FF0000" stroke="#ED7D31" stroke-width="2"/>
<circle cx="1668.14" cy="795.50" r="5.75" fill="#FF0000" stroke="#ED7D31" stroke-width="2"/>
<circle cx="1734.77" cy="788.50" r="5.75" fill="#FF0000" stroke="#ED7D31" stroke-width="2"/>
<circle cx="1801.39" cy="753.30" r="5.75" fill="#FF0000" stroke="#ED7D31" stroke-width="2"/>
<line x1="1228.06" y1="995.24" x2="1801.39" y2="747.22" stroke="#ED7D31" stroke-width="3.0" stroke-linecap="round" stroke-dasharray="0 6.8"/>
<line x1="1228.06" y1="1020.70" x2="1301.68" y2="976.42" stroke="#4472C4" stroke-width="2.9" stroke-linecap="round" stroke-dasharray="0 6.5"/>
<line x1="1301.68" y1="976.42" x2="1801.39" y2="675.85" stroke="#4472C4" stroke-width="2.7" stroke-dasharray="4 2.1"/>
<text x="1138.91" y="711.90" font-family='"Liberation Serif", "Times New Roman", serif' font-weight="normal" font-size="42.6" textLength="50.70" lengthAdjust="spacingAndGlyphs" fill="#000">(h)</text>
<polygon points="1649.00,834.25 1655.85,846.75 1642.15,846.75" fill="#3A6FC4"/>
<polygon points="1649.00,837.58 1653.15,845.15 1644.85,845.15" fill="#00B0F0"/>
<text x="1659.09" y="848.30" font-family='"Liberation Serif", "Times New Roman", serif' font-weight="bold" font-size="20.5" textLength="67.40" lengthAdjust="spacingAndGlyphs" fill="#000">IR8 NL</text>
<circle cx="1649.00" cy="877.70" r="5.60" fill="#FF0000" stroke="#ED7D31" stroke-width="2"/>
<text x="1659.09" y="884.70" font-family='"Liberation Serif", "Times New Roman", serif' font-weight="bold" font-size="20.5" textLength="66.17" lengthAdjust="spacingAndGlyphs" fill="#000">IR8 LL</text>
<text x="1767.58" y="826.50" font-family='"Liberation Serif", "Times New Roman", serif' font-weight="bold" font-size="20" textLength="181.46" lengthAdjust="spacingAndGlyphs" fill="#000">y = 0.0552x - 1.4037</text>
<text x="1805.62" y="851.40" font-family='"Liberation Serif", "Times New Roman", serif' font-weight="bold" font-size="20" textLength="105.92" lengthAdjust="spacingAndGlyphs" fill="#000">R² = 0.9997</text>
<text x="1760.58" y="888.20" font-family='"Liberation Serif", "Times New Roman", serif' font-weight="bold" font-size="20" textLength="181.63" lengthAdjust="spacingAndGlyphs" fill="#000">y = 0.0397x - 0.8898</text>
<text x="1799.12" y="911.70" font-family='"Liberation Serif", "Times New Roman", serif' font-weight="bold" font-size="20" textLength="105.31" lengthAdjust="spacingAndGlyphs" fill="#000">R² = 0.9637</text>
<text x="909.5" y="1180.9" font-family='"Liberation Serif", "Times New Roman", serif' font-weight="bold" font-size="28.5">PAR, µmol photons m<tspan font-size="17.5" dy="-10">-2</tspan><tspan dy="10"> s</tspan><tspan font-size="17.5" dy="-10">-1</tspan></text>
<text transform="translate(24.2,703.5) rotate(-90)" x="0" y="0" font-family='"Liberation Serif", "Times New Roman", serif' font-weight="bold" font-size="28.5">Net Assimilation, µmol m<tspan font-size="17.5" dy="-10">-2</tspan><tspan dy="10"> s</tspan><tspan font-size="17.5" dy="-10">-1</tspan></text>
<rect x="60.95" y="6.25" width="1943.95" height="1140.15" fill="none" stroke="#000" stroke-width="3.5"/>
</svg></body></html>
